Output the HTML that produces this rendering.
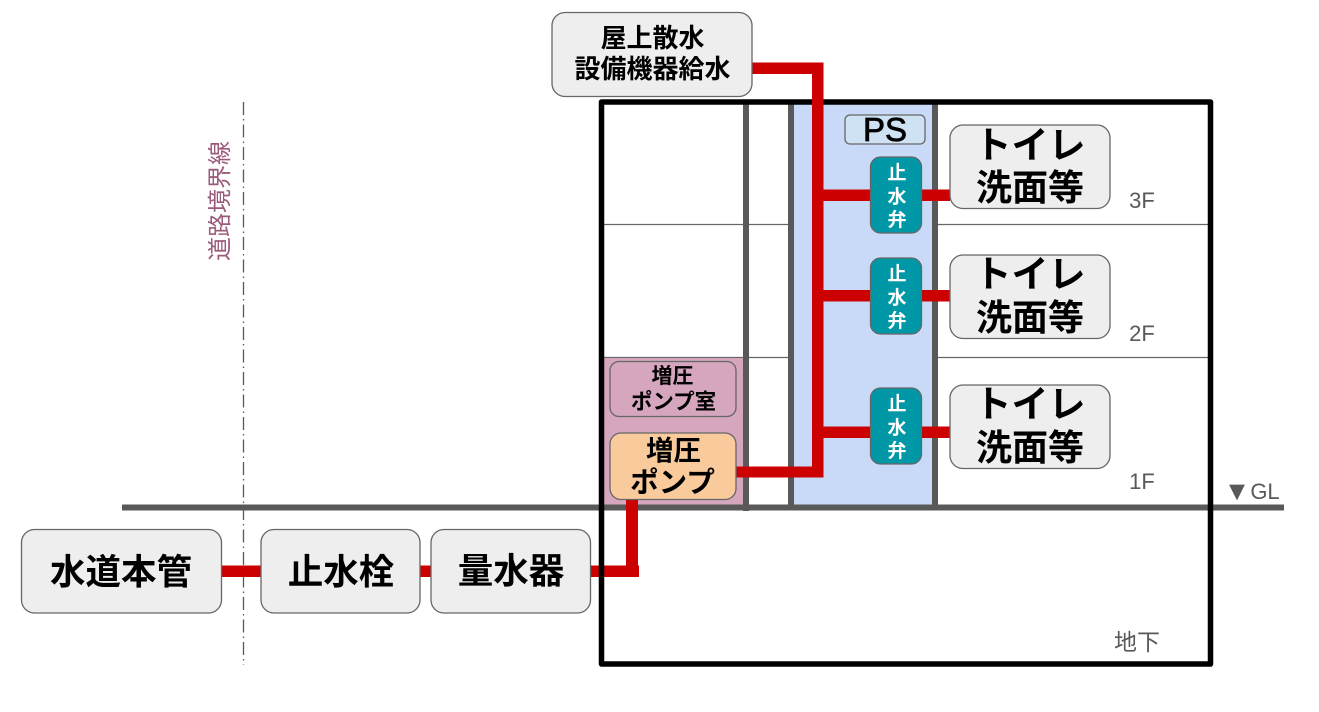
<!DOCTYPE html>
<html lang="ja">
<head>
<meta charset="utf-8">
<style>
html,body{margin:0;padding:0;background:#fff;width:1319px;height:712px;overflow:hidden}
svg{display:block}
text{font-family:"Liberation Sans","Noto Sans CJK JP",sans-serif;text-anchor:middle}
.b{font-weight:700;fill:#000}
.box{stroke:#666;stroke-width:1.3}
.g{fill:#595959}
.v{font-weight:700;fill:#fff;font-size:19px}
</style>
</head>
<body>
<svg width="1319" height="712" viewBox="0 0 1319 712" xmlns="http://www.w3.org/2000/svg">
<g stroke="#666" stroke-width="1.3" fill="none">
<path d="M604 224.5H1208M604 357.5H1208"/>
</g>
<rect x="601" y="358" width="145" height="149" fill="#d5a6bd"/>
<rect x="791" y="102" width="144" height="405" fill="#c9daf8"/>
<path d="M243.5 102V665" stroke="#595959" stroke-width="1.3" fill="none" stroke-dasharray="13 4 1.5 4"/>
<g stroke="#595959" stroke-width="6" fill="none">
<path d="M746 102V511M791 102V507M935 102V507"/>
<path d="M122 507.5H1284"/>
</g>
<g fill="#cc0000">
<rect x="221" y="565.5" width="40" height="11.5"/>
<rect x="420" y="565.5" width="11" height="11.5"/>
<rect x="590" y="565.5" width="49" height="11.5"/>
<rect x="626" y="499" width="12" height="78"/>
</g>
<rect x="601.5" y="102" width="609" height="562" fill="none" stroke="#000" stroke-width="5.5" stroke-linejoin="round"/>
<g fill="#cc0000">
<rect x="752" y="62.500" width="71.500" height="11.500"/>
<rect x="812" y="62.500" width="11.500" height="415"/>
<rect x="736" y="466.500" width="87.500" height="11"/>
<rect x="823" y="189.500" width="127" height="11.500"/>
<rect x="823" y="290" width="127" height="11.500"/>
<rect x="823" y="426.500" width="127" height="11.500"/>
</g>
<rect class="box" x="552" y="12.500" width="200" height="84" rx="13" fill="#eeeeee"/>
<text class="b" x="652.500" y="47" font-size="26">屋上散水</text>
<text class="b" x="652.500" y="78" font-size="26">設備機器給水</text>
<rect class="box" x="845" y="115" width="80" height="29" rx="5" fill="#cfe2f3"/>
<text x="885" y="141" font-size="33" style="fill:#000;font-weight:400;stroke:#000;stroke-width:.8">PS</text>
<rect class="box" x="870.500" y="157" width="51" height="76" rx="10" fill="#0097a7"/>
<text class="v" x="897" y="179">止</text><text class="v" x="897" y="203">水</text><text class="v" x="897" y="226">弁</text>
<rect class="box" x="870.500" y="258" width="51" height="76" rx="10" fill="#0097a7"/>
<text class="v" x="897" y="280">止</text><text class="v" x="897" y="304">水</text><text class="v" x="897" y="327">弁</text>
<rect class="box" x="870.500" y="388" width="51" height="76" rx="10" fill="#0097a7"/>
<text class="v" x="897" y="410">止</text><text class="v" x="897" y="434">水</text><text class="v" x="897" y="457">弁</text>
<rect class="box" x="950" y="125" width="160" height="83.500" rx="13" fill="#eeeeee"/>
<text class="b" x="1030" y="158" font-size="37">トイレ</text>
<text class="b" x="1030" y="200" font-size="36">洗面等</text>
<rect class="box" x="950" y="255" width="160" height="83.500" rx="13" fill="#eeeeee"/>
<text class="b" x="1030" y="287" font-size="37">トイレ</text>
<text class="b" x="1030" y="330" font-size="36">洗面等</text>
<rect class="box" x="950" y="385" width="160" height="83.500" rx="13" fill="#eeeeee"/>
<text class="b" x="1030" y="417" font-size="37">トイレ</text>
<text class="b" x="1030" y="460" font-size="36">洗面等</text>
<rect class="box" x="610" y="361.500" width="126" height="55" rx="9" fill="#d5a6bd"/>
<text class="b" x="672.500" y="383" font-size="21">増圧</text>
<text class="b" x="673.500" y="409" font-size="21.500">ポンプ室</text>
<rect class="box" x="610" y="433" width="126" height="66.500" rx="11" fill="#f9cb9c"/>
<text class="b" x="673.500" y="460" font-size="27.500">増圧</text>
<text class="b" x="672.500" y="492" font-size="28.500">ポンプ</text>
<rect class="box" x="21.500" y="529.500" width="200" height="83.500" rx="13" fill="#eeeeee"/>
<text class="b" x="121" y="584" font-size="35.500">水道本管</text>
<rect class="box" x="261" y="529.500" width="159" height="83.500" rx="13" fill="#eeeeee"/>
<text class="b" x="341" y="584" font-size="35.500">止水栓</text>
<rect class="box" x="431" y="529.500" width="159.500" height="83.500" rx="13" fill="#eeeeee"/>
<text class="b" x="511" y="583" font-size="35.500">量水器</text>
<text class="g" x="1142" y="208" font-size="22">3F</text>
<text class="g" x="1142" y="341" font-size="22">2F</text>
<text class="g" x="1142" y="489" font-size="22">1F</text>
<text class="g" x="1137" y="650" font-size="23">地下</text>
<text class="g" x="1237" y="500" font-size="27">▼</text>
<text class="g" x="1265" y="499" font-size="22">GL</text>
<text x="0" y="0" font-size="24" fill="#741b47" fill-opacity=".72" transform="translate(228 201) rotate(-90)">道路境界線</text>
</svg>
</body>
</html>
